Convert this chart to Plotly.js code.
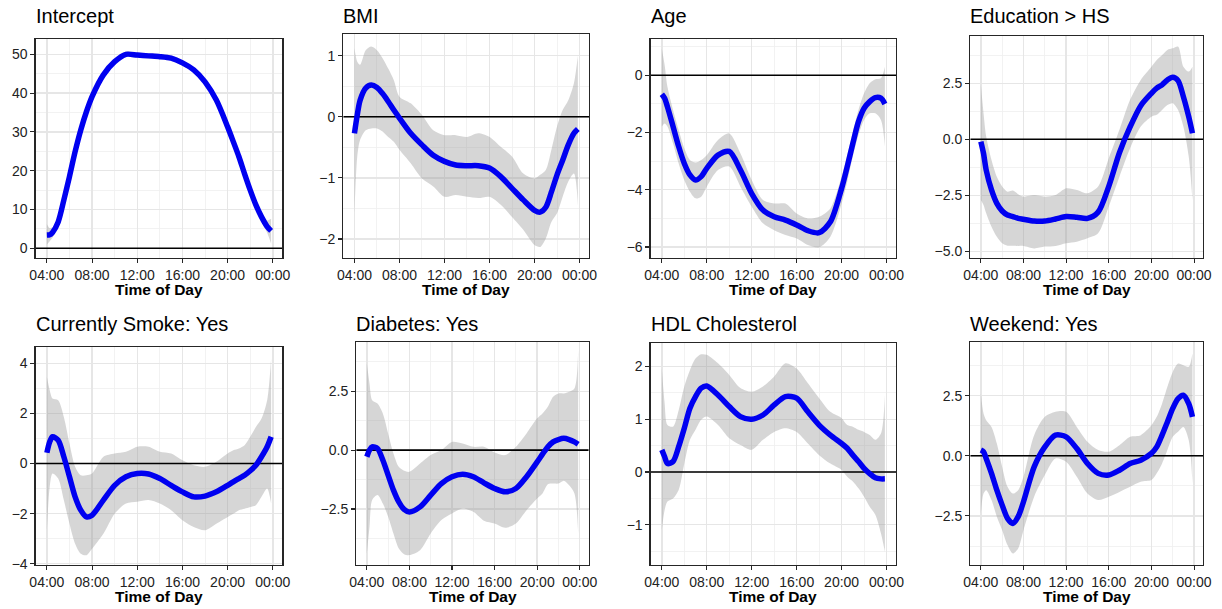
<!DOCTYPE html>
<html>
<head>
<meta charset="utf-8">
<script src="https://cdn.plot.ly/plotly-3.0.1.min.js"></script>
<style>
html,body{margin:0;padding:0;background:#fff;}
#chart{width:1222px;height:609px;}
</style>
</head>
<body>
<div id="chart"></div>
<script>
// ---------- data ----------
const hours = [4, 4.25, 4.5, 5, 5.5, 6, 6.5, 7, 7.5, 8, 9, 10, 11, 12, 13, 14, 15, 16, 17, 18, 19, 20, 20.5, 21, 21.5, 22, 22.5, 23, 23.5, 23.85];

const xTickVals = [4, 8, 12, 16, 20, 24];
const xTickText = ["04:00", "08:00", "12:00", "16:00", "20:00", "00:00"];
const xMinorVals = [6, 10, 14, 18, 22];

const panelTitles = ["Intercept", "BMI", "Age", "Education > HS", "Currently Smoke: Yes", "Diabetes: Yes", "HDL Cholesterol", "Weekend: Yes"];
const xAxisTitle = "Time of Day";

const interceptEst = [3.4, 3.5, 4.1, 6.8, 12.4, 18.5, 24.9, 30.5, 35.2, 39.1, 44.7, 48.1, 50.0, 49.8, 49.6, 49.4, 49.0, 47.8, 46.0, 42.9, 38.2, 31.3, 27.5, 23.6, 19.2, 15.0, 11.2, 8.1, 5.6, 4.5];
const interceptLo = [0.9, 1.8, 2.8, 5.8, 11.5, 17.7, 24.2, 29.8, 34.5, 38.4, 44.0, 47.4, 49.3, 49.1, 48.9, 48.7, 48.3, 47.1, 45.3, 42.2, 37.5, 30.6, 26.8, 22.9, 18.5, 14.2, 10.3, 7.0, 4.0, 1.2];
const interceptHi = [6.2, 5.2, 5.4, 7.8, 13.3, 19.3, 25.6, 31.2, 35.9, 39.8, 45.4, 48.8, 50.7, 50.5, 50.3, 50.1, 49.7, 48.5, 46.7, 43.6, 38.9, 32.0, 28.2, 24.3, 19.9, 15.8, 12.1, 9.2, 7.2, 7.6];

const bmiEst = [-0.27, 0.03, 0.27, 0.47, 0.52, 0.48, 0.38, 0.25, 0.11, -0.02, -0.27, -0.46, -0.63, -0.73, -0.79, -0.80, -0.80, -0.84, -0.98, -1.17, -1.36, -1.53, -1.56, -1.48, -1.23, -0.95, -0.71, -0.46, -0.27, -0.20];
const bmiLo = [-1.58, -0.65, -0.38, -0.22, -0.19, -0.19, -0.24, -0.33, -0.41, -0.54, -0.76, -1.01, -1.14, -1.31, -1.28, -1.31, -1.33, -1.31, -1.44, -1.64, -1.85, -2.10, -2.13, -1.99, -1.72, -1.58, -1.31, -1.06, -0.93, -1.45];
const bmiHi = [1.12, 0.90, 0.85, 1.09, 1.15, 1.09, 0.96, 0.79, 0.60, 0.33, 0.22, 0.03, -0.22, -0.30, -0.30, -0.33, -0.27, -0.33, -0.49, -0.65, -0.93, -1.01, -0.95, -0.87, -0.54, -0.16, 0.11, 0.27, 0.55, 1.00];

const ageEst = [-0.66, -0.80, -1.10, -1.79, -2.49, -3.08, -3.48, -3.66, -3.54, -3.25, -2.79, -2.66, -3.31, -4.13, -4.71, -4.94, -5.06, -5.23, -5.43, -5.50, -5.12, -3.95, -3.19, -2.38, -1.62, -1.15, -0.92, -0.78, -0.80, -1.00];
const ageLo = [-1.79, -1.68, -1.79, -2.38, -3.08, -3.66, -4.07, -4.30, -4.24, -3.89, -3.31, -3.19, -3.89, -4.59, -5.17, -5.41, -5.58, -5.70, -5.93, -6.01, -5.64, -4.48, -3.72, -2.84, -2.09, -1.56, -1.33, -1.33, -1.56, -2.49];
const ageHi = [0.94, 0.36, -0.40, -1.21, -1.91, -2.55, -2.96, -3.05, -2.96, -2.79, -2.26, -2.03, -2.73, -3.66, -4.36, -4.48, -4.48, -4.83, -5.00, -4.94, -4.65, -3.54, -2.79, -1.97, -1.21, -0.63, -0.28, -0.14, -0.10, 0.30];

const eduEst = [-0.10, -0.63, -1.37, -2.26, -2.86, -3.20, -3.38, -3.45, -3.53, -3.57, -3.65, -3.65, -3.56, -3.45, -3.48, -3.53, -3.25, -2.10, -0.60, 0.55, 1.50, 2.05, 2.28, 2.43, 2.65, 2.77, 2.62, 1.90, 1.01, 0.27];
const eduLo = [-2.71, -2.93, -3.30, -3.90, -4.35, -4.64, -4.75, -4.75, -4.76, -4.76, -4.87, -4.79, -4.76, -4.64, -4.57, -4.42, -4.20, -3.00, -1.67, -0.40, 0.57, 1.01, 1.09, 1.31, 1.53, 1.61, 1.31, 0.57, -0.77, -2.71];
const eduHi = [2.43, 1.16, 0.12, -0.92, -1.67, -2.11, -2.34, -2.29, -2.45, -2.56, -2.49, -2.56, -2.49, -2.19, -2.26, -2.41, -2.11, -0.85, 0.42, 1.76, 2.65, 3.24, 3.54, 3.76, 3.99, 4.06, 4.14, 3.24, 3.02, 3.24];

const smokeEst = [0.43, 0.87, 1.07, 0.93, 0.27, -0.53, -1.33, -1.86, -2.13, -2.06, -1.46, -0.87, -0.53, -0.40, -0.42, -0.60, -0.87, -1.13, -1.33, -1.30, -1.13, -0.87, -0.73, -0.60, -0.47, -0.29, -0.07, 0.27, 0.67, 1.07];
const smokeLo = [-2.66, -0.93, -0.40, -0.60, -1.46, -2.40, -3.20, -3.60, -3.66, -3.40, -2.80, -2.00, -1.60, -1.53, -1.46, -1.60, -1.86, -2.26, -2.53, -2.66, -2.40, -2.13, -2.00, -1.86, -1.80, -1.73, -1.66, -1.33, -1.00, -1.60];
const smokeHi = [3.46, 2.93, 2.60, 2.53, 1.86, 0.80, -0.13, -0.47, -0.47, -0.40, 0.27, 0.40, 0.47, 0.67, 0.67, 0.47, 0.40, 0.13, -0.07, -0.13, 0.07, 0.40, 0.53, 0.60, 0.73, 1.07, 1.46, 1.80, 2.53, 4.19];

const diabEst = [-0.28, 0.00, 0.14, 0.07, -0.42, -1.06, -1.70, -2.20, -2.52, -2.63, -2.41, -1.91, -1.42, -1.13, -1.02, -1.13, -1.39, -1.63, -1.77, -1.63, -1.13, -0.50, -0.17, 0.14, 0.35, 0.45, 0.50, 0.45, 0.35, 0.25];
const diabLo = [-4.39, -3.26, -2.12, -1.91, -2.27, -2.83, -3.54, -4.18, -4.42, -4.46, -4.25, -3.54, -2.97, -2.69, -2.48, -2.62, -3.00, -3.12, -3.30, -3.12, -2.55, -2.05, -1.84, -1.45, -1.42, -1.42, -1.30, -1.49, -1.84, -3.54];
const diabHi = [3.68, 2.83, 2.12, 1.98, 1.56, 0.71, -0.14, -0.71, -0.88, -0.92, -0.57, -0.21, 0.00, 0.35, 0.28, 0.14, 0.14, -0.10, -0.21, 0.14, 0.71, 1.35, 1.56, 1.84, 2.27, 2.41, 2.41, 2.48, 2.62, 4.25];

const hdlEst = [0.42, 0.29, 0.16, 0.20, 0.48, 0.83, 1.21, 1.43, 1.59, 1.63, 1.46, 1.24, 1.05, 1.00, 1.08, 1.27, 1.43, 1.40, 1.14, 0.89, 0.70, 0.54, 0.45, 0.32, 0.20, 0.07, -0.03, -0.11, -0.13, -0.13];
const hdlLo = [-1.10, -0.72, -0.56, -0.50, -0.34, 0.16, 0.61, 0.80, 0.99, 1.05, 0.89, 0.64, 0.51, 0.42, 0.61, 0.76, 0.83, 0.76, 0.54, 0.32, 0.16, 0.04, -0.09, -0.18, -0.31, -0.47, -0.66, -0.81, -1.16, -1.51];
const hdlHi = [1.96, 1.30, 0.89, 0.86, 1.17, 1.62, 1.93, 2.15, 2.23, 2.22, 2.06, 1.84, 1.59, 1.52, 1.62, 1.81, 2.06, 1.96, 1.68, 1.40, 1.14, 1.02, 0.89, 0.86, 0.80, 0.76, 0.70, 0.61, 0.73, 1.46];

const weekendEst = [0.24, 0.17, -0.11, -0.73, -1.43, -2.05, -2.60, -2.81, -2.53, -1.91, -0.46, 0.37, 0.86, 0.79, 0.30, -0.32, -0.73, -0.80, -0.60, -0.32, -0.18, 0.10, 0.37, 0.86, 1.41, 1.97, 2.38, 2.52, 2.17, 1.62];
const weekendLo = [-2.40, -1.57, -1.43, -1.84, -2.53, -3.09, -3.71, -4.06, -3.85, -3.09, -1.70, -0.80, -0.11, -0.25, -0.87, -1.57, -1.84, -1.70, -1.50, -1.29, -1.08, -1.01, -0.73, -0.32, 0.24, 0.79, 1.00, 1.20, 0.65, -1.15];
const weekendHi = [2.59, 1.76, 1.48, 1.20, 0.51, -0.46, -1.29, -1.57, -1.43, -0.87, 0.86, 1.62, 1.83, 1.83, 1.20, 0.58, 0.24, 0.17, 0.44, 0.79, 0.86, 1.27, 1.62, 2.17, 2.87, 3.49, 3.84, 3.77, 3.70, 4.25];

// y-axis ticks per panel
const yTickVals = [
  [0, 10, 20, 30, 40, 50],
  [-2, -1, 0, 1],
  [-6, -4, -2, 0],
  [-5, -2.5, 0, 2.5],
  [-4, -2, 0, 2, 4],
  [-2.5, 0, 2.5],
  [-1, 0, 1, 2],
  [-2.5, 0, 2.5]
];
const yTickText = [
  ["0", "10", "20", "30", "40", "50"],
  ["\u22122", "\u22121", "0", "1"],
  ["\u22126", "\u22124", "\u22122", "0"],
  ["\u22125.0", "\u22122.5", "0.0", "2.5"],
  ["\u22124", "\u22122", "0", "2", "4"],
  ["\u22122.5", "0.0", "2.5"],
  ["\u22121", "0", "1", "2"],
  ["\u22122.5", "0.0", "2.5"]
];
const yMinorVals = [
  [5, 15, 25, 35, 45],
  [-1.5, -0.5, 0.5],
  [-5, -3, -1, 1],
  [-3.75, -1.25, 1.25, 3.75],
  [-3, -1, 1, 3],
  [-3.75, -1.25, 1.25, 3.75],
  [-1.5, -0.5, 0.5, 1.5],
  [-3.75, -1.25, 1.25, 3.75]
];
const referenceLevel = 0;

// ---------- layout geometry (pixels) ----------
const W = 1222, H = 609;
const xRange = [3.01, 24.84];
const yRanges = [
  [-2.42, 53.87], [-2.306, 1.355], [-6.373, 1.258], [-5.286, 4.61],
  [-4.05, 4.64], [-4.88, 4.58], [-1.762, 2.439], [-4.54, 4.72]
];
// [left, right, top, bottom]
const boxes = [
  [35.7, 282.3, 39.3, 257.7], [343.3, 589, 34, 257.7], [650.7, 896, 39.3, 257.7], [970.3, 1203, 36, 257.7],
  [35.7, 282.3, 347.3, 565], [356.3, 588.7, 342.3, 565], [650.7, 896, 343.3, 565], [970.3, 1203, 342.3, 565]
];
const titleY = [16, 16, 16, 16, 324, 324, 324, 324];
const axisTitleY = [289, 289, 289, 289, 596, 596, 596, 596];

const series = [
  [interceptEst, interceptLo, interceptHi],
  [bmiEst, bmiLo, bmiHi],
  [ageEst, ageLo, ageHi],
  [eduEst, eduLo, eduHi],
  [smokeEst, smokeLo, smokeHi],
  [diabEst, diabLo, diabHi],
  [hdlEst, hdlLo, hdlHi],
  [weekendEst, weekendLo, weekendHi]
];

const ribbonColor = "rgba(153,153,153,0.4)";
const lineColor = "#0000F0";
const frameColor = "#262626";
const gridColor = "#E6E6E6";
const fontFamily = "Liberation Sans, Arial, Helvetica, sans-serif";

const traces = [];
const layout = {
  width: W, height: H,
  margin: {l: 0, r: 0, t: 0, b: 0},
  paper_bgcolor: "#ffffff",
  plot_bgcolor: "#ffffff",
  showlegend: false,
  font: {family: fontFamily, color: "#000000"},
  annotations: []
};

series.forEach((s, i) => {
  const sfx = i === 0 ? "" : String(i + 1);
  const xa = "x" + sfx, ya = "y" + sfx;
  const [est, lo, hi] = s;
  traces.push({x: hours, y: lo, xaxis: xa, yaxis: ya, type: "scatter", mode: "lines",
    line: {width: 0, shape: "spline", smoothing: 0.8}, hoverinfo: "skip"});
  traces.push({x: hours, y: hi, xaxis: xa, yaxis: ya, type: "scatter", mode: "lines",
    line: {width: 0, shape: "spline", smoothing: 0.8}, fill: "tonexty", fillcolor: ribbonColor, hoverinfo: "skip"});
  traces.push({x: xRange, y: [referenceLevel, referenceLevel], xaxis: xa, yaxis: ya, type: "scatter", mode: "lines",
    line: {width: 1.6, color: "#000000"}, hoverinfo: "skip"});
  traces.push({x: hours, y: est, xaxis: xa, yaxis: ya, type: "scatter", mode: "lines",
    line: {width: 5.5, color: lineColor, shape: "spline", smoothing: 0.8}});

  const b = boxes[i];
  const common = {
    showline: true, linecolor: frameColor, linewidth: 1.3, mirror: true,
    ticks: "outside", ticklen: 4, tickwidth: 1.1, tickcolor: frameColor,
    showgrid: true, gridcolor: gridColor, gridwidth: 1.4, zeroline: false,
    tickfont: {size: 14, color: "#222222", family: fontFamily},
    fixedrange: true
  };
  layout["xaxis" + sfx] = Object.assign({}, common, {
    domain: [b[0] / W, b[1] / W], anchor: ya, range: xRange,
    tickmode: "array", tickvals: xTickVals, ticktext: xTickText,
    minor: {tickmode: "array", tickvals: xMinorVals, showgrid: true, gridcolor: "#EFEFEF", gridwidth: 0.8, ticks: ""}
  });
  layout["yaxis" + sfx] = Object.assign({}, common, {
    domain: [1 - b[3] / H, 1 - b[2] / H], anchor: xa, range: yRanges[i],
    tickmode: "array", tickvals: yTickVals[i], ticktext: yTickText[i],
    minor: {tickmode: "array", tickvals: yMinorVals[i], showgrid: true, gridcolor: "#EFEFEF", gridwidth: 0.8, ticks: ""}
  });
  layout.annotations.push({
    text: panelTitles[i], xref: "paper", yref: "paper",
    x: b[0] / W, y: 1 - titleY[i] / H, xanchor: "left", yanchor: "middle", xshift: -2,
    showarrow: false, font: {size: 20, color: "#000000", family: fontFamily}
  });
  layout.annotations.push({
    text: "<b>" + xAxisTitle + "</b>", xref: "paper", yref: "paper",
    x: (b[0] + b[1]) / 2 / W, y: 1 - axisTitleY[i] / H, xanchor: "center", yanchor: "middle",
    showarrow: false, font: {size: 15.5, color: "#000000", family: fontFamily}
  });
});

Plotly.newPlot("chart", traces, layout, {staticPlot: true, displayModeBar: false});
</script>
</body>
</html>
